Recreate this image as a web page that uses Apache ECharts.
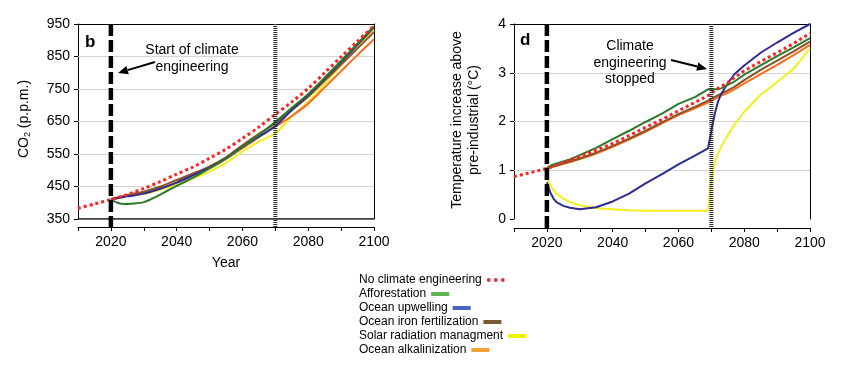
<!DOCTYPE html>
<html><head><meta charset="utf-8">
<script src="https://cdn.jsdelivr.net/npm/echarts@6/dist/echarts.min.js"></script>
<style>html,body{margin:0;padding:0;background:#fff;}#c{width:842px;height:374px;}#err{position:absolute;left:600px;top:290px;font:10px monospace;color:#c00;width:240px;}</style>
</head><body><div id="c"></div><div id="err"></div>
<script>
window.onerror = function (m) { document.getElementById('err').textContent += ' ' + m; };
const FONT = '"Liberation Sans", Arial, Helvetica, sans-serif';

// ---------- data ----------
const seriesNames = ['No climate engineering', 'Afforestation', 'Ocean upwelling',
  'Ocean iron fertilization', 'Solar radiation managment', 'Ocean alkalinization'];
const eventYears = [2020, 2070];
const xTickYears = [2020, 2040, 2060, 2080, 2100];
const co2GridValues = [450, 550, 650, 750, 850];
const tGridValues = [1, 2, 3];

// Panel b: CO2 (p.p.m.)
const yearsCO2 = [2010, 2015, 2020, 2022, 2024, 2026, 2030, 2035, 2040, 2045, 2050, 2055, 2060, 2065, 2070, 2075, 2080, 2085, 2090, 2095, 2100];
const co2None   = [383, 396, 410, 416, 422, 429, 444, 465, 488, 510, 537, 565, 598, 633, 672, 710, 752, 800, 849, 897, 945];
const co2Affor  = [null, null, 410, 400, 396, 397, 402, 425, 452, 477, 506, 536, 572, 608, 649, 692, 735, 785, 837, 890, 943];
const co2Upwell = [null, null, 410, 414, 418, 421, 428, 443, 462, 485, 508, 537, 572, 603, 636, 685, 732, 782, 833, 886, 940];
const co2Iron   = [null, null, 410, 416, 421, 426, 434, 450, 470, 490, 512, 540, 577, 612, 645, 685, 726, 775, 825, 875, 925];
const co2Solar  = [null, null, 410, 414, 418, 422, 427, 440, 455, 475, 496, 523, 557, 588, 614, 665, 711, 765, 823, 878, 932];
const co2Alk    = [null, null, 410, 415, 420, 424, 430, 445, 462, 484, 506, 535, 568, 602, 634, 667, 705, 755, 805, 855, 903];

// Panel d: temperature increase above pre-industrial (°C)
const yearsT = [2010, 2015, 2020, 2021, 2022, 2023, 2025, 2027, 2030, 2035, 2040, 2045, 2050, 2055, 2060, 2065, 2069, 2070, 2071, 2072, 2073, 2075, 2077, 2080, 2085, 2090, 2095, 2100];
const tNone   = [0.87, 0.95, 1.04, 1.06, 1.09, 1.11, 1.16, 1.21, 1.28, 1.41, 1.55, 1.71, 1.88, 2.04, 2.22, 2.39, 2.53, 2.58, 2.63, 2.68, 2.72, 2.80, 2.90, 3.04, 3.23, 3.41, 3.60, 3.81];
const tAffor  = [null, null, 1.05, 1.09, 1.12, 1.14, 1.18, 1.22, 1.31, 1.46, 1.64, 1.81, 1.99, 2.16, 2.36, 2.50, 2.66, 2.67, 2.66, 2.66, 2.68, 2.75, 2.82, 2.96, 3.15, 3.34, 3.52, 3.71];
const tUpwell = [null, null, 0.75, 0.55, 0.42, 0.34, 0.27, 0.23, 0.20, 0.24, 0.36, 0.52, 0.73, 0.92, 1.12, 1.30, 1.45, 1.80, 2.15, 2.40, 2.57, 2.78, 2.97, 3.15, 3.41, 3.62, 3.82, 4.00];
const tIron   = [null, null, 1.04, 1.06, 1.08, 1.10, 1.14, 1.18, 1.24, 1.36, 1.50, 1.65, 1.81, 1.98, 2.15, 2.30, 2.43, 2.47, 2.50, 2.54, 2.57, 2.64, 2.71, 2.85, 3.06, 3.25, 3.44, 3.64];
const tSolar  = [null, null, 0.85, 0.70, 0.59, 0.51, 0.42, 0.35, 0.28, 0.22, 0.20, 0.18, 0.17, 0.17, 0.17, 0.17, 0.17, 0.80, 1.15, 1.33, 1.48, 1.72, 1.93, 2.20, 2.55, 2.81, 3.08, 3.50];
const tAlk    = [null, null, 1.04, 1.05, 1.07, 1.09, 1.13, 1.17, 1.23, 1.34, 1.48, 1.63, 1.79, 1.96, 2.13, 2.27, 2.39, 2.42, 2.46, 2.50, 2.53, 2.59, 2.66, 2.78, 2.97, 3.16, 3.36, 3.57];

// ---------- styles ----------
const lineColors   = ['#ff2222', '#2a7a2a', '#2c2c94', '#8a5428', '#f0f01e', '#ff6a1e'];
const legendColors = ['#d93a42', '#5cb44a', '#4a62c0', '#7a5a35', '#f5f000', '#f0a034'];
const drawOrder = [4, 5, 3, 2, 1, 0];

const plotRects = [
  {left: 78, top: 24, width: 296, height: 195},
  {left: 514, top: 24, width: 296, height: 195}
];
const yRanges = [{min: 350, max: 950, interval: 100}, {min: 0, max: 4, interval: 1}];
const xRange = {min: 2010, max: 2100};
const xOffsets = [8, 9];

const pairs = (xs, ys) => xs.map((x, i) => [x, ys[i]]).filter(p => p[1] != null);
const co2Sets = [co2None, co2Affor, co2Upwell, co2Iron, co2Solar, co2Alk];
const tSets = [tNone, tAffor, tUpwell, tIron, tSolar, tAlk];
const gridValueSets = [co2GridValues, tGridValues];

const axisFont = {color: '#000', fontSize: 14, fontFamily: FONT};

// grids 0,1: main plots; grids 2,3: overlays carrying the frame (top / right edges)
const grids = [
  Object.assign({}, plotRects[0]),
  Object.assign({}, plotRects[1]),
  Object.assign({}, plotRects[0]),
  Object.assign({}, plotRects[1])
];

function mainX(g) {
  return {
    gridIndex: g, type: 'value', min: xRange.min, max: xRange.max, interval: 10, position: 'bottom',
    offset: xOffsets[g], axisLine: {show: true, onZero: false, lineStyle: {color: '#000', width: 1}},
    axisTick: {show: true, inside: false, length: 4, lineStyle: {color: '#000', width: 1}},
    axisLabel: Object.assign({margin: 8, formatter: v => xTickYears.includes(v) ? String(v) : ''}, axisFont),
    splitLine: {show: false}
  };
}
function mainY(g) {
  const r = yRanges[g];
  return {
    gridIndex: g, type: 'value', min: r.min, max: r.max, interval: r.interval, position: 'left',
    axisLine: {show: true, onZero: false, lineStyle: {color: '#000', width: 1}},
    axisTick: {show: true, inside: false, length: 4, lineStyle: {color: '#000', width: 1}},
    axisLabel: Object.assign({margin: 8}, axisFont),
    splitLine: {show: true, showMinLine: false, showMaxLine: false, lineStyle: {color: '#d4d4d4', width: 1}}
  };
}
function frameX(g) {
  return {gridIndex: g, type: 'value', min: xRange.min, max: xRange.max, position: 'top',
    axisLine: {show: true, onZero: false, lineStyle: {color: '#000', width: 1}},
    axisTick: {show: false}, axisLabel: {show: false}, splitLine: {show: false}};
}
function frameY(g, panel) {
  const r = yRanges[panel];
  return {gridIndex: g, type: 'value', min: r.min, max: r.max, position: 'right',
    axisLine: {show: true, onZero: false, lineStyle: {color: '#000', width: 1}},
    axisTick: {show: false}, axisLabel: {show: false}, splitLine: {show: false}};
}

const xAxes = [
  Object.assign(mainX(0), {name: 'Year', nameLocation: 'middle', nameGap: 29,
    nameTextStyle: {color: '#000', fontSize: 14, fontFamily: FONT}}),
  mainX(1),
  frameX(2),
  frameX(3)
];
const yAxes = [mainY(0), mainY(1), frameY(2, 0), frameY(3, 1)];

const series = [];
[co2Sets, tSets].forEach((sets, g) => {
  // light horizontal grid lines at the inner y ticks
  series.push({
    type: 'lines', coordinateSystem: 'cartesian2d', xAxisIndex: g, yAxisIndex: g, silent: true, z: 1,
    polyline: false, effect: {show: false},
    lineStyle: {color: '#d4d4d4', width: 1, opacity: 1, curveness: 0},
    data: gridValueSets[g].map(v => ({coords: [[xRange.min, v], [xRange.max, v]]}))
  });
  drawOrder.forEach(k => {
    const isNone = k === 0;
    series.push({
      name: seriesNames[k], type: 'line', xAxisIndex: g, yAxisIndex: g,
      data: pairs(g === 0 ? yearsCO2 : yearsT, sets[k]),
      smooth: g === 0 ? 0.3 : false, symbol: 'none', z: isNone ? 4 : 3,
      itemStyle: {color: lineColors[k]},
      lineStyle: isNone ? {color: lineColors[k], width: 3, type: [3, 3]} : {color: lineColors[k], width: 2}
    });
  });
  // vertical event markers (start / stop of climate engineering)
  const r = yRanges[g];
  const below = r.min - xOffsets[g] / plotRects[g].height * (r.max - r.min);
  eventYears.forEach((yr, e) => {
    series.push({
      type: 'line', xAxisIndex: g, yAxisIndex: g, clip: false, silent: true,
      symbol: 'none', z: 6,
      data: [[yr, r.max], [yr, below]],
      lineStyle: e === 0 ? {color: '#000', width: 4.5, type: [12, 4], cap: 'butt'}
                         : {color: '#2a2a2a', width: 4, type: [1, 1], cap: 'butt'}
    });
  });
});
// the bold lower frame edge of panel b, at the axis minimum
series.push({
  type: 'line', xAxisIndex: 0, yAxisIndex: 0, silent: true, symbol: 'none', z: 5,
  data: [[xRange.min, yRanges[0].min], [xRange.max, yRanges[0].min]],
  lineStyle: {color: '#000', width: 1.5}
});

const dotsIcon = 'path://M2,2m-2,0a2,2 0 1,0 4,0a2,2 0 1,0 -4,0M9,2m-2,0a2,2 0 1,0 4,0a2,2 0 1,0 -4,0M16,2m-2,0a2,2 0 1,0 4,0a2,2 0 1,0 -4,0';
const legends = seriesNames.map((n, i) => ({
  orient: 'vertical', left: 359, top: 274 + i * 14, align: 'right', selectedMode: false,
  padding: 0, itemWidth: 18, itemHeight: 4,
  textStyle: {color: '#000', fontSize: 12, fontFamily: FONT},
  data: [{name: n, icon: i === 0 ? dotsIcon : 'rect', itemStyle: {color: legendColors[i], borderWidth: 0}}]
}));

function arrow(tail, tip) {
  const dx = tip[0] - tail[0], dy = tip[1] - tail[1];
  const L = Math.hypot(dx, dy), ux = dx / L, uy = dy / L;
  const hl = 10, hw = 4.2;
  const bx = tip[0] - ux * hl, by = tip[1] - uy * hl;
  return [
    {type: 'polyline', shape: {points: [tail, [bx, by]]}, style: {stroke: '#000', lineWidth: 2, fill: null}, z: 20},
    {type: 'polygon', shape: {points: [tip, [bx - uy * hw, by + ux * hw], [bx + uy * hw, by - ux * hw]]}, style: {fill: '#000'}, z: 20}
  ];
}

const graphics = [
  // y-axis titles
  {type: 'text', x: 24, y: 119, rotation: Math.PI / 2, z: 20,
    style: {text: 'CO{s|2} (p.p.m.)', font: '14px ' + FONT, fill: '#000', align: 'center', verticalAlign: 'middle',
      rich: {s: {fontSize: 9, fontFamily: FONT, fill: '#000', padding: [7, 0, 0, 0]}}}},
  {type: 'text', x: 466, y: 120, rotation: Math.PI / 2, z: 20,
    style: {text: 'Temperature increase above\npre-industrial (°C)', font: '14px ' + FONT, lineHeight: 17,
      fill: '#000', align: 'center', verticalAlign: 'middle'}},
  {type: 'text', x: 85, y: 51, style: {text: 'b', font: 'bold 17px ' + FONT, fill: '#000', verticalAlign: 'bottom'}, z: 20},
  {type: 'text', x: 520, y: 49, style: {text: 'd', font: 'bold 17px ' + FONT, fill: '#000', verticalAlign: 'bottom'}, z: 20},
  {type: 'text', x: 192, y: 59, style: {text: 'Start of climate\nengineering', font: '14px ' + FONT, lineHeight: 17,
    fill: '#000', align: 'center', verticalAlign: 'middle'}, z: 20},
  {type: 'text', x: 630, y: 63, style: {text: 'Climate\nengineering\nstopped', font: '14px ' + FONT, lineHeight: 16.5,
    fill: '#000', align: 'center', verticalAlign: 'middle'}, z: 20}
].concat(arrow([155, 62], [118, 73]), arrow([671, 60], [707, 69]));

const chart = echarts.init(document.getElementById('c'), null, {renderer: 'canvas'});
try {
  chart.setOption({
    animation: false,
    grid: grids,
    xAxis: xAxes,
    yAxis: yAxes,
    legend: legends,
    series: series,
    graphic: graphics
  });
} catch (e) {
  document.getElementById('err').textContent += ' ' + e.message;
}
</script></body></html>
